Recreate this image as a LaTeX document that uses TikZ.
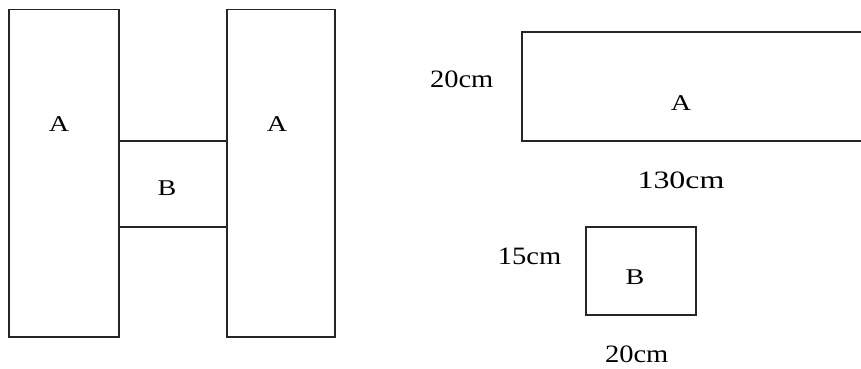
\documentclass[tikz,border=0pt]{standalone}
\usepackage{fontspec}
\setmainfont{Liberation Serif}
\begin{document}
\begin{tikzpicture}[x=1pt,y=-1pt,
  box/.style={draw=black!85,line width=1.8pt},
  lbl/.style={inner sep=0pt,font=\fontsize{22.5}{26}\selectfont,xscale=1.25},
  dim/.style={inner sep=0pt,font=\fontsize{25}{28}\selectfont,xscale=1.14}]
\useasboundingbox (0,0) rectangle (861,369);
\clip (0,0) rectangle (861,369);
% left H figure
\draw[box] (9,9.5) rectangle (118.7,337);
\draw[box] (226.7,9.5) rectangle (335,337);
\draw[box] (118.7,141) -- (226.7,141);
\draw[box] (118.7,227) -- (226.7,227);
\node[lbl] (a1) at (59,124) {A};
\node[lbl] (b1) at (167,188) {B};
\node[lbl] (a2) at (277,124) {A};
% right pieces
\draw[box] (521.7,31.7) rectangle (880,140.7);
\node[lbl] (a3) at (681,103.5) {A};
\node[dim] (d1) at (461.7,79) {20cm};
\node[dim,xscale=1.12] (d2) at (681,180) {130cm};
\draw[box] (586,227.3) rectangle (696,315.3);
\node[lbl] (b2) at (635,277) {B};
\node[dim] (d3) at (529.5,256) {15cm};
\node[dim] (d4) at (636.7,354) {20cm};
\end{tikzpicture}
\end{document}
